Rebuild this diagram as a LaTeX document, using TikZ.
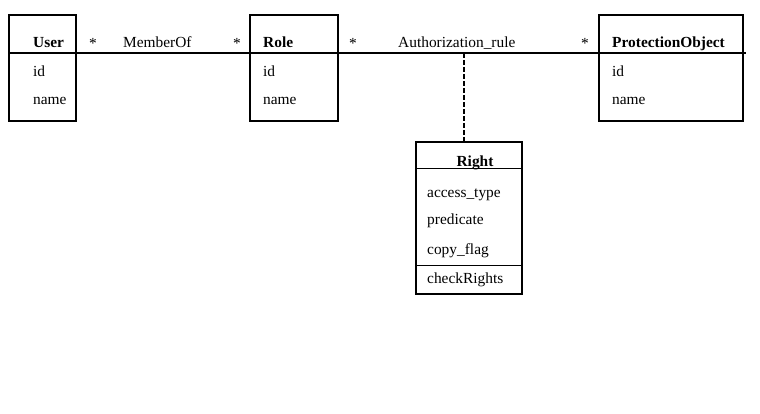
\documentclass[tikz,border=0pt]{standalone}
\usepackage{fontspec}
\setmainfont{Liberation Serif}
\begin{document}
\begin{tikzpicture}[x=1pt,y=-1pt,
  box/.style={draw,line width=1.1pt,inner sep=0pt},
  lbl/.style={anchor=base west,inner sep=0pt,font=\fontsize{15.4}{18}\selectfont},
  ttl/.style={lbl,font=\fontsize{15.4}{18}\selectfont\bfseries},
  conn/.style={line width=1.1pt},
  dep/.style={line width=2pt,dash pattern=on 5pt off 2pt}]
\useasboundingbox (0,0) rectangle (760,414);
% boxes
\node[box,minimum width=67pt,minimum height=106pt] (user) at (42.5,68) {};
\node[box,minimum width=88pt,minimum height=106pt] (role) at (294,68) {};
\node[box,minimum width=144pt,minimum height=106pt] (po) at (671,68) {};
\node[box,minimum width=106pt,minimum height=152pt] (right) at (469,218) {};
% association line
\coordinate (lend) at (746,53);
\draw[conn] (user.west |- lend) -- (lend);
% dashed link
\coordinate (rj) at (464,53);
\draw[dep] (rj) -- (rj |- right.north);
% Right compartments
\draw[conn] ([yshift=-27.5pt]right.north west) coordinate (r1) -- (r1 -| right.east);
\draw[conn] ([yshift=-124pt]right.north west) coordinate (r2) -- (r2 -| right.east);
% texts
\node[ttl] (tu) at (33,48) {User};
\node[lbl] (ui) at (33,77) {id};
\node[lbl] (un) at (33,105) {name};
\node[ttl] (tr) at (263,48) {Role};
\node[lbl] (ri) at (263,77) {id};
\node[lbl] (rn) at (263,105) {name};
\node[ttl] (tp) at (612,48) {ProtectionObject};
\node[lbl] (pi) at (612,77) {id};
\node[lbl] (pn) at (612,105) {name};
\node[lbl] (s1) at (89,49) {*};
\node[lbl] (mo) at (123,48) {MemberOf};
\node[lbl] (s2) at (233,49) {*};
\node[lbl] (s3) at (349,49) {*};
\node[lbl] (ar) at (398,48) {Authorization\_rule};
\node[lbl] (s4) at (581,49) {*};
\node[ttl,anchor=base] (tg) at (475,167) {Right};
\node[lbl] (a1) at (427,197) {access\_type};
\node[lbl] (a2) at (427,225) {predicate};
\node[lbl] (a3) at (427,254) {copy\_flag};
\node[lbl] (a4) at (427,283) {checkRights};
\end{tikzpicture}
\end{document}
